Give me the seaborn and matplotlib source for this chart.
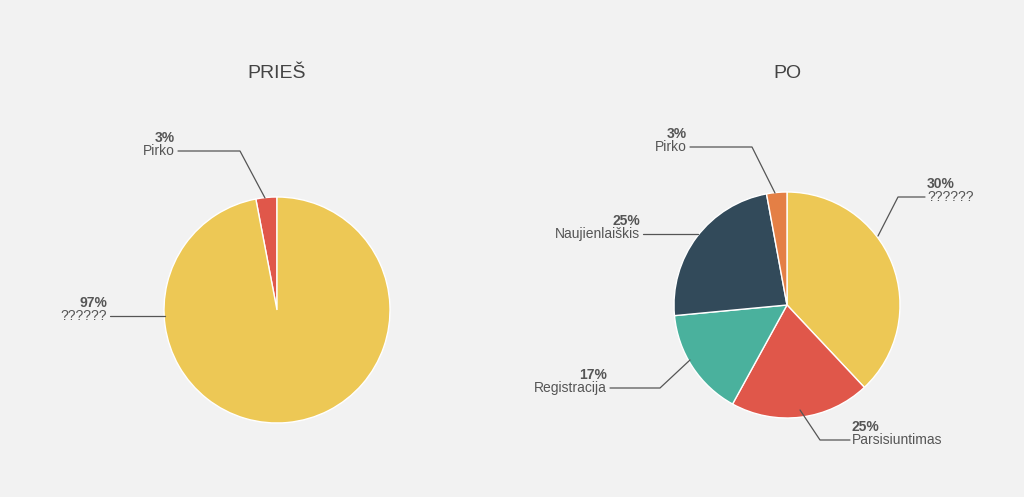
"""Before/after conversion pie charts (PRIEŠ / PO)."""

import matplotlib.pyplot as plt
import seaborn as sns

# ──────────────────────────────────────────────
# Data
# ──────────────────────────────────────────────
before_names = ["Pirko", "??????"]
before_values = [3, 97]
before_labels = ["3%", "97%"]

after_names = ["??????", "Parsisiuntimas", "Registracija", "Naujienlaiškis", "Pirko"]
after_values = [38, 20, 15.5, 23.6, 2.9]  # slice sizes as drawn
after_labels = ["30%", "25%", "17%", "25%", "3%"]  # texts as printed

COLORS = {
    "??????": "#EDC855",
    "Pirko": "#E0574A",
    "Parsisiuntimas": "#E0574A",
    "Registracija": "#4AB19D",
    "Naujienlaiškis": "#324A5A",
}
AFTER_COLORS = ["#EDC855", "#E0574A", "#4AB19D", "#324A5A", "#E47F45"]

BG = "#F2F2F2"
TXT = "#555555"
H = 497

sns.set_style("white", {"axes.facecolor": BG, "figure.facecolor": BG})
plt.rcParams["font.family"] = ["Liberation Sans", "DejaVu Sans"]

fig = plt.figure(figsize=(10.24, 4.97), dpi=100)
ax = fig.add_axes([0, 0, 1, 1])
ax.set_xlim(0, 1024)
ax.set_ylim(0, H)
ax.set_aspect("equal")
ax.axis("off")

ax.pie(before_values, colors=[COLORS[n] for n in before_names], startangle=90,
       counterclock=True, center=(277, H - 310), radius=113, frame=True)
ax.pie(after_values, colors=AFTER_COLORS, startangle=90, counterclock=False,
       center=(787, H - 305), radius=113, frame=True)
ax.set_xlim(0, 1024)
ax.set_ylim(0, H)
ax.axis("off")

ax.text(277, H - 73, "PRIEŠ", ha="center", va="center", fontsize=14, color="#444")
ax.text(787, H - 73, "PO", ha="center", va="center", fontsize=14, color="#444")


def callout(pct, name, path, side):
    xs = [p[0] for p in path]
    ys = [H - p[1] for p in path]
    ax.plot(xs, ys, color="#555", lw=0.9)
    if side == "left":
        x, ha = xs[0] - 3, "right"
        y = ys[0]
    else:
        x, ha = xs[-1] + 2, "left"
        y = ys[-1]
    ax.text(x, y + 13, pct, ha=ha, va="center", fontsize=10, fontweight="bold", color=TXT)
    ax.text(x, y, name, ha=ha, va="center", fontsize=10, color=TXT)


# before
callout(before_labels[0], before_names[0], [(178, 151), (240, 151), (265, 198)], "left")
callout(before_labels[1], before_names[1], [(110, 316), (165, 316)], "left")

# after
callout(after_labels[4], after_names[4], [(690, 147), (752, 147), (775, 193)], "left")
callout(after_labels[3], after_names[3], [(643, 234), (698, 234)], "left")
callout(after_labels[2], after_names[2], [(610, 388), (660, 388), (690, 360)], "left")
callout(after_labels[0], after_names[0], [(878, 236), (898, 197), (925, 197)], "right")
callout(after_labels[1], after_names[1], [(800, 410), (820, 440), (850, 440)], "right")

fig.savefig("out.png", dpi=100, facecolor=BG)
